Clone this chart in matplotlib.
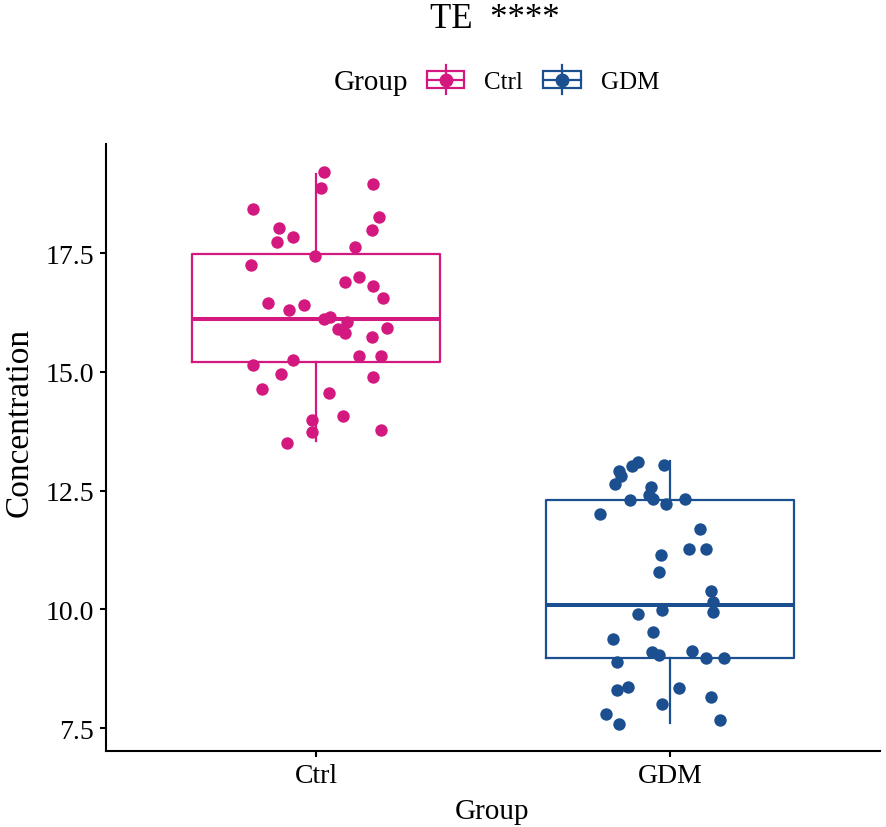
import matplotlib
matplotlib.use('Agg')
import numpy as np
import matplotlib.pyplot as plt
from matplotlib.patches import Rectangle
from matplotlib.lines import Line2D
from matplotlib.legend_handler import HandlerBase

plt.rcParams['font.family'] = ['Liberation Serif', 'DejaVu Serif']

# ---------------- data ----------------
categories = ['Ctrl', 'GDM']
colors = ['#D3187F', '#1B4F8F']

ctrl_values = [19.21, 18.96, 18.87, 18.43, 18.25, 18.03, 17.99, 17.84, 17.73, 17.63,
               17.43, 17.25, 16.99, 16.88, 16.81, 16.55, 16.44, 16.41, 16.29, 16.16,
               16.11, 16.04, 15.90, 15.81, 15.92, 15.74, 15.33, 15.33, 15.25, 15.14,
               14.96, 14.88, 14.64, 14.55, 14.07, 13.99, 13.74, 13.77, 13.51]
ctrl_jitter = [0.023, 0.162, 0.014, -0.178, 0.179, -0.104, 0.157, -0.066, -0.109, 0.109,
               -0.002, -0.184, 0.121, 0.083, 0.162, 0.190, -0.136, -0.035, -0.077, 0.040,
               0.023, 0.087, 0.062, 0.083, 0.201, 0.157, 0.121, 0.184, -0.064, -0.178,
               -0.098, 0.162, -0.152, 0.036, 0.076, -0.011, -0.011, 0.184, -0.083]

gdm_values = [13.11, 13.01, 13.04, 12.92, 12.81, 12.63, 12.57, 12.41, 12.32, 12.30,
              12.22, 12.32, 12.00, 11.70, 11.26, 11.26, 11.14, 10.78, 10.38, 10.15,
              9.94, 9.99, 9.89, 9.53, 9.37, 9.09, 9.04, 9.12, 8.97, 8.97,
              8.90, 8.37, 8.30, 8.34, 8.16, 8.01, 7.79, 7.59, 7.67]
gdm_jitter = [-0.091, -0.108, -0.017, -0.145, -0.138, -0.156, -0.054, -0.060, -0.047, -0.113,
              -0.012, 0.042, -0.198, 0.086, 0.053, 0.101, -0.026, -0.032, 0.116, 0.121,
              0.122, -0.022, -0.091, -0.047, -0.160, -0.050, -0.031, 0.063, 0.101, 0.153,
              -0.149, -0.119, -0.151, 0.026, 0.116, -0.022, -0.181, -0.145, 0.142]

# box statistics (whisker low, Q1, median, Q3, whisker high)
ctrl_box = [13.54, 15.21, 16.11, 17.48, 19.16]
gdm_box = [7.60, 8.97, 10.09, 12.30, 13.12]

yticks = [7.5, 10.0, 12.5, 15.0, 17.5]
ytick_labels = ['7.5', '10.0', '12.5', '15.0', '17.5']

title_text = 'TE  ****'
x_label = 'Group'
y_label = 'Concentration'
legend_title = 'Group'

# ---------------- figure ----------------
W, H = 886, 828
fig = plt.figure(figsize=(W / 100, H / 100), dpi=100)
ax = fig.add_axes([106 / W, 1 - 752 / H, (880 - 106) / W, (752 - 145) / H])

positions = [1, 2]
stats = []
for name, b in zip(categories, [ctrl_box, gdm_box]):
    stats.append(dict(label=name, whislo=b[0], q1=b[1], med=b[2], q3=b[3],
                      whishi=b[4], fliers=[]))

bp = ax.bxp(stats, positions=positions, widths=0.7, showcaps=False,
            showfliers=False, patch_artist=False)
for i, c in enumerate(colors):
    bp['boxes'][i].set(color=c, linewidth=1.6)
    bp['medians'][i].set(color=c, linewidth=2.9, solid_capstyle='butt')
    for w in bp['whiskers'][2 * i:2 * i + 2]:
        w.set(color=c, linewidth=1.6)

for pos, vals, jit, c in zip(positions, [ctrl_values, gdm_values],
                             [ctrl_jitter, gdm_jitter], colors):
    ax.scatter(pos + np.array(jit), vals, s=80, color=c, linewidths=0, zorder=3)

ax.set_xlim(0.407, 2.593)
ax.set_ylim(7.016, 19.795)
ax.set_xticks(positions)
ax.set_xticklabels(categories)
ax.set_yticks(yticks)
ax.set_yticklabels(ytick_labels)
for s in ['top', 'right']:
    ax.spines[s].set_visible(False)
for s in ['left', 'bottom']:
    ax.spines[s].set_linewidth(1.5)
ax.tick_params(axis='both', direction='out', length=4.5, width=1.5,
               labelsize=20, pad=4, colors='black')

fig.text(492 / W, 1 - 819 / H, x_label, ha='center', va='baseline', fontsize=21)
fig.text(19 / W, 1 - 422 / H, y_label, ha='center', va='center', rotation=90,
         fontsize=24)

fig.text(495 / W, 1 - 20 / H, title_text, ha='center', va='center', fontsize=25)


class BoxHandler(HandlerBase):
    def create_artists(self, legend, orig_handle, xdescent, ydescent, width,
                       height, fontsize, trans):
        c = orig_handle.get_color()
        x0, y0 = -xdescent, -ydescent
        cx, cy = x0 + width / 2, y0 + height / 2
        bh = height * 0.95
        rect = Rectangle((x0, cy - bh / 2), width, bh, fill=False,
                         edgecolor=c, linewidth=1.6, transform=trans)
        med = Line2D([x0, x0 + width], [cy, cy], color=c, linewidth=1.6,
                     transform=trans)
        wh = Line2D([cx, cx], [cy - bh * 0.85, cy + bh * 0.85], color=c,
                    linewidth=1.6, transform=trans)
        pt = Line2D([cx], [cy], marker='o', markersize=9, color=c,
                    linestyle='none', transform=trans)
        return [wh, rect, med, pt]


handles = [Line2D([], [], color=c) for c in colors]
handler = BoxHandler()
fig.legend(handles, categories, loc='center', bbox_to_anchor=(543 / W, 1 - 83 / H),
           ncol=2, frameon=False, fontsize=18, handlelength=1.5, handleheight=0.7,
           handletextpad=0.8, columnspacing=0.8,
           handler_map={h: handler for h in handles})
fig.text(408 / W, 1 - 83 / H, legend_title, ha='right', va='center', fontsize=21)

fig.savefig('out.png', dpi=100)
